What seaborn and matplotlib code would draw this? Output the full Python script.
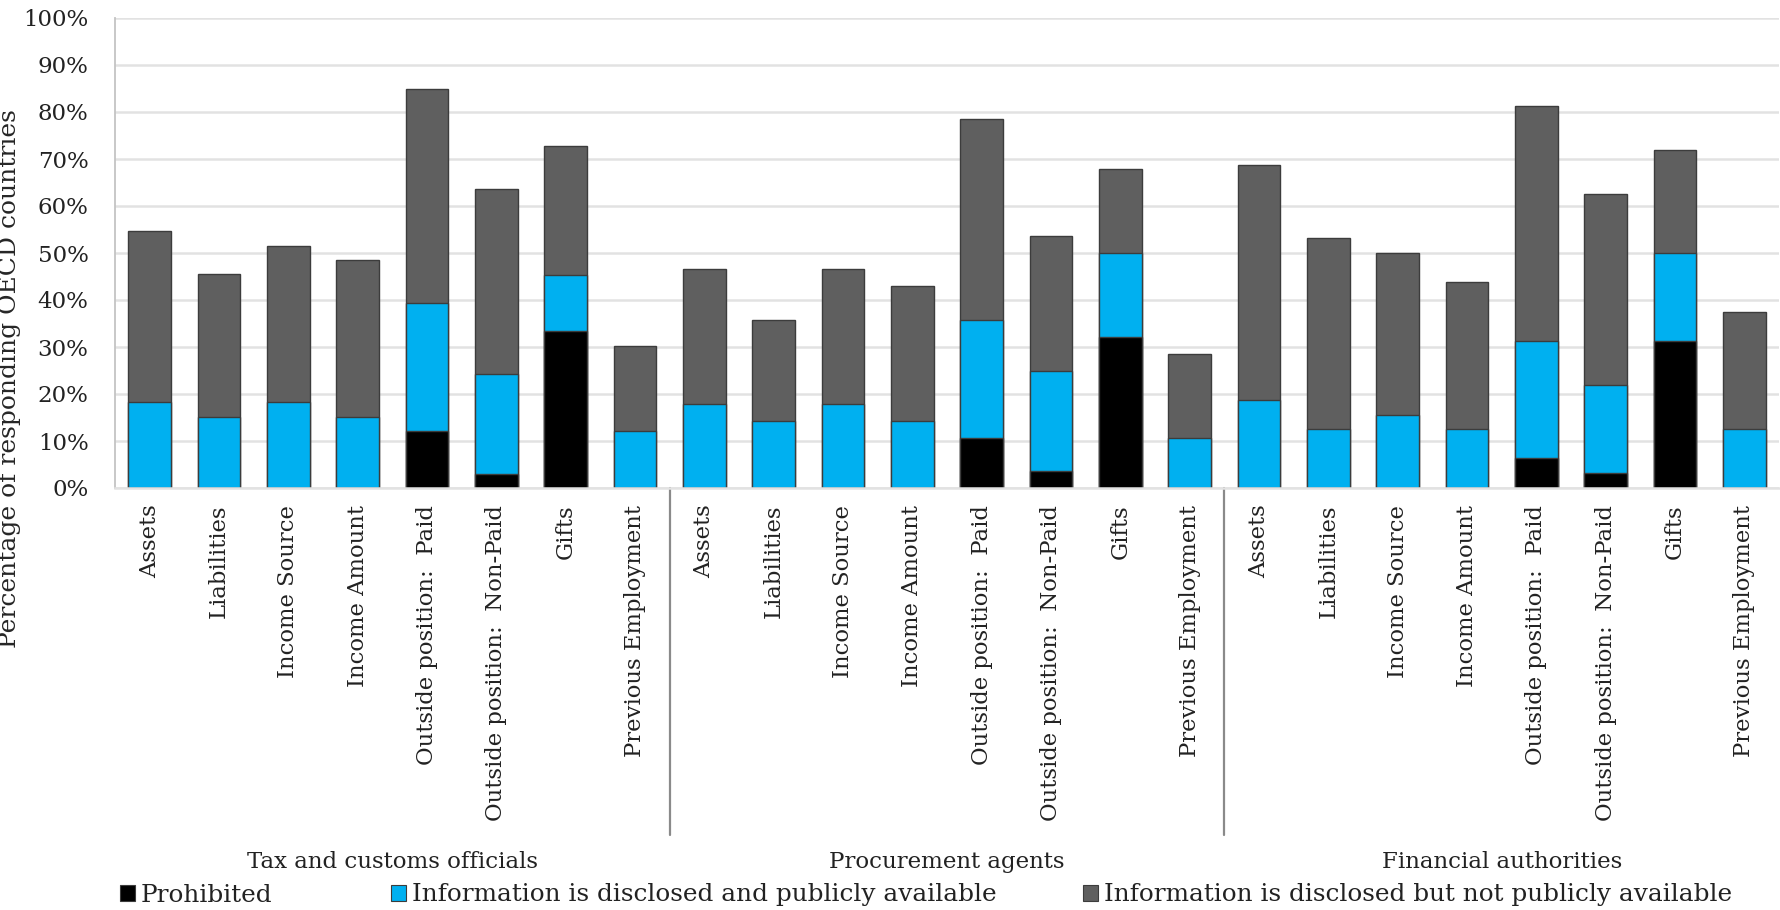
import matplotlib
matplotlib.use("Agg")
import matplotlib.pyplot as plt
from matplotlib.patches import Patch
from matplotlib.ticker import PercentFormatter
import pandas as pd
import seaborn as sns

# Official groups and the disclosure items surveyed for each
groups = ["Tax and customs officials", "Procurement agents", "Financial authorities"]
items = ["Assets", "Liabilities", "Income Source", "Income Amount",
         "Outside position:  Paid", "Outside position:  Non-Paid",
         "Gifts", "Previous Employment"]

# Share of responding OECD countries (%), one value per group/item pair
prohibited = [0.0, 0.0, 0.0, 0.0, 12.1, 3.0, 33.3, 0.0,
              0.0, 0.0, 0.0, 0.0, 10.7, 3.6, 32.1, 0.0,
              0.0, 0.0, 0.0, 0.0, 6.3, 3.1, 31.3, 0.0]
public = [18.2, 15.2, 18.2, 15.2, 27.3, 21.2, 12.1, 12.1,
          17.9, 14.3, 17.9, 14.3, 25.0, 21.4, 17.9, 10.7,
          18.8, 12.5, 15.6, 12.5, 25.0, 18.8, 18.8, 12.5]
not_public = [36.4, 30.3, 33.3, 33.3, 45.5, 39.4, 27.3, 18.2,
              28.6, 21.4, 28.6, 28.6, 42.9, 28.6, 17.9, 17.9,
              50.0, 40.6, 34.4, 31.3, 50.0, 40.6, 21.9, 25.0]

series_names = ["Prohibited",
                "Information is disclosed and publicly available",
                "Information is disclosed but not publicly available"]

BLACK = "#000000"
BLUE = "#00b0f0"
GRAY = "#5f5f5f"
EDGE = "#3c3c3c"
GRID = "#e2e2e2"

sns.set_style("white")
plt.rcParams["font.family"] = ["DejaVu Serif"]
plt.rcParams["text.color"] = "#222222"
plt.rcParams["xtick.color"] = "#222222"
plt.rcParams["ytick.color"] = "#222222"

keys = [f"{g}|{it}" for g in groups for it in items]
df = pd.DataFrame({
    "key": keys,
    "prohibited": prohibited,
    "public": public,
    "not_public": not_public,
})
# cumulative heights for stacking (drawn tallest first)
df["upto_public"] = df["prohibited"] + df["public"]
df["total"] = df["upto_public"] + df["not_public"]

W, H = 1781, 910
fig = plt.figure(figsize=(W / 100, H / 100), dpi=100)
ax = fig.add_axes([115 / W, 1 - 488 / H, (1779 - 115) / W, 470 / H])

common = dict(data=df, x="key", order=keys, width=0.62, saturation=1,
              edgecolor=EDGE, linewidth=1.0, errorbar=None, ax=ax)
sns.barplot(y="total", color=GRAY, **common)
sns.barplot(y="upto_public", color=BLUE, **common)
sns.barplot(y="prohibited", color=BLACK, **common)

ax.set_ylim(0, 100)
ax.set_yticks(range(0, 101, 10))
ax.yaxis.set_major_formatter(PercentFormatter(decimals=0))
ax.yaxis.grid(True, color=GRID, lw=1.8)
ax.set_axisbelow(True)
ax.set_xlim(-0.5, len(keys) - 0.5)

for s in ["top", "right"]:
    ax.spines[s].set_visible(False)
ax.spines["left"].set_color("#c4c4c4")
ax.spines["left"].set_linewidth(1.3)
ax.spines["bottom"].set_color(GRID)
ax.spines["bottom"].set_linewidth(1.8)

ax.set_xticks(range(len(keys)))
ax.set_xticklabels(items * len(groups), rotation=90, fontsize=16.4)
ax.tick_params(axis="x", length=0, pad=12)
ax.tick_params(axis="y", length=7, width=1.3, color="#c4c4c4", pad=12,
               labelsize=16.5, labelcolor="#222222")
ax.set_xlabel("")
ax.set_ylabel("Percentage of responding OECD countries", fontsize=18)
ax.yaxis.set_label_coords(-0.0565, 0.232)

# group separators and group names below the item labels
trans = ax.get_xaxis_transform()
n = len(items)
for k in range(1, len(groups)):
    xpos = k * n - 0.5
    ax.plot([xpos, xpos], [0, -0.738], transform=trans, color="#8a8a8a",
            lw=1.6, clip_on=False)
for k, g in enumerate(groups):
    ax.text(k * n + (n - 1) / 2, -0.796, g, transform=trans, ha="center",
            va="center", fontsize=16.5)

# one legend entry per series, laid out along the bottom edge
legend_left = [120, 391, 1083]
for x0, c, name in zip(legend_left, (BLACK, BLUE, GRAY), series_names):
    h = Patch(facecolor=c, edgecolor=EDGE, linewidth=0.8)
    fig.legend([h], [name], loc="center left", bbox_to_anchor=(x0 / W, 1 - 895 / H),
               frameon=False, fontsize=17.8, handlelength=0.6, handleheight=0.6,
               handletextpad=0.25, borderpad=0, borderaxespad=0)

fig.savefig("out.png", dpi=100)
